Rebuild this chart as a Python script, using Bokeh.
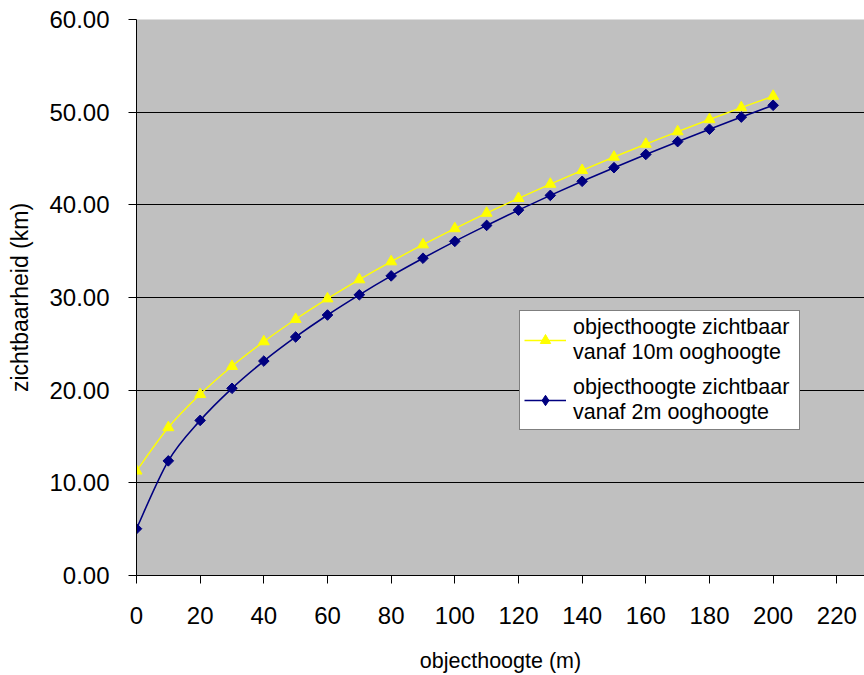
from bokeh.plotting import figure
from bokeh.models import (ColumnDataSource, Range1d, FixedTicker, NumeralTickFormatter,
                          Legend, LegendItem)
from bokeh.embed import file_html
from bokeh.resources import INLINE

# ---- data ----
objecthoogte = [0, 10, 20, 30, 40, 50, 60, 70, 80, 90, 100,
                110, 120, 130, 140, 150, 160, 170, 180, 190, 200]
zicht_10m = [11.29, 15.97, 19.55, 22.58, 25.24, 27.65, 29.87, 31.93, 33.87, 35.70, 37.44,
             39.11, 40.70, 42.24, 43.72, 45.16, 46.55, 47.90, 49.21, 50.49, 51.73]
zicht_2m = [5.05, 12.37, 16.74, 20.20, 23.14, 25.74, 28.11, 30.29, 32.33, 34.24, 36.06,
            37.78, 39.43, 41.02, 42.54, 44.01, 45.44, 46.82, 48.16, 49.47, 50.74]
x_ticks = [0, 20, 40, 60, 80, 100, 120, 140, 160, 180, 200, 220]
y_ticks = [0, 10, 20, 30, 40, 50, 60]
label_10m = "objecthoogte zichtbaar\nvanaf 10m ooghoogte"
label_2m = "objecthoogte zichtbaar\nvanaf 2m ooghoogte"

YELLOW = "#FFFF00"
NAVY = "#000080"
FONT = "Liberation Sans"


def smooth_segments(xs, ys):
    """Bezier control points (Excel-like smoothed line) derived from the data points."""
    n = len(xs)
    d = dict(x0=[], y0=[], x1=[], y1=[], cx0=[], cy0=[], cx1=[], cy1=[])
    for i in range(n - 1):
        ip = max(i - 1, 0)
        i2 = min(i + 2, n - 1)
        d["x0"].append(xs[i]); d["y0"].append(ys[i])
        d["x1"].append(xs[i + 1]); d["y1"].append(ys[i + 1])
        d["cx0"].append(xs[i] + (xs[i + 1] - xs[ip]) / 6.0)
        d["cy0"].append(ys[i] + (ys[i + 1] - ys[ip]) / 6.0)
        d["cx1"].append(xs[i + 1] - (xs[i2] - xs[i]) / 6.0)
        d["cy1"].append(ys[i + 1] - (ys[i2] - ys[i]) / 6.0)
    return ColumnDataSource(d)


p = figure(width=864, height=675, output_backend="svg", toolbar_location=None,
           x_range=Range1d(0, 228.7), y_range=Range1d(0, 60),
           min_border_left=136, min_border_right=0, min_border_top=19, min_border_bottom=98)

p.background_fill_color = "#C0C0C0"
p.border_fill_color = "white"
p.outline_line_color = None

p.xgrid.grid_line_color = None
p.ygrid.grid_line_color = "black"
p.ygrid.grid_line_width = 1

# axes
p.xaxis.ticker = FixedTicker(ticks=x_ticks)
p.yaxis.ticker = FixedTicker(ticks=y_ticks)
p.yaxis.formatter = NumeralTickFormatter(format="0.00")
for ax in (p.xaxis[0], p.yaxis[0]):
    ax.axis_line_color = "black"
    ax.axis_line_width = 1
    ax.major_tick_line_color = "black"
    ax.major_tick_in = 0
    ax.major_tick_out = 8
    ax.minor_tick_line_color = None
    ax.major_label_text_font = FONT
    ax.major_label_text_font_size = "24px"
    ax.major_label_text_color = "black"
    ax.axis_label_text_font = FONT
    ax.axis_label_text_font_style = "normal"
    ax.axis_label_text_color = "black"

p.xaxis.axis_label = "objecthoogte (m)"
p.xaxis.axis_label_text_font_size = "21.5px"
p.xaxis.major_label_standoff = 23
p.xaxis.axis_label_standoff = 22

p.yaxis.axis_label = "zichtbaarheid (km)"
p.yaxis.axis_label_text_font_size = "23px"
p.yaxis.major_label_standoff = 19
p.yaxis.axis_label_standoff = 13

# series
src10 = ColumnDataSource(dict(x=objecthoogte, y=zicht_10m))
src2 = ColumnDataSource(dict(x=objecthoogte, y=zicht_2m))

b10 = p.bezier(x0="x0", y0="y0", x1="x1", y1="y1", cx0="cx0", cy0="cy0", cx1="cx1", cy1="cy1",
               source=smooth_segments(objecthoogte, zicht_10m), line_color=YELLOW, line_width=1.4)
m10 = p.scatter("x", "y", source=src10, marker="triangle", size=11,
                fill_color=YELLOW, line_color=YELLOW)

b2 = p.bezier(x0="x0", y0="y0", x1="x1", y1="y1", cx0="cx0", cy0="cy0", cx1="cx1", cy1="cy1",
              source=smooth_segments(objecthoogte, zicht_2m), line_color=NAVY, line_width=1.6)
m2 = p.scatter("x", "y", source=src2, marker="square", angle=0.785398, size=7.5,
               fill_color=NAVY, line_color=NAVY)
# diamond-shaped legend symbol (legend markers are drawn unrotated)
m2_key = p.scatter("x", "y", source=src2, marker="diamond", size=12,
                   fill_color=NAVY, line_color=NAVY, visible=False)

legend = Legend(items=[LegendItem(label=label_10m, renderers=[b10, m10]),
                       LegendItem(label=label_2m, renderers=[b2, m2_key])],
                location=(383, 145))
legend.background_fill_color = "white"
legend.background_fill_alpha = 1
legend.border_line_color = "black"
legend.border_line_width = 1
legend.label_text_font = FONT
legend.label_text_font_size = "21.5px"
legend.label_text_color = "black"
legend.glyph_width = 42
legend.glyph_height = 26
legend.label_standoff = 7
legend.label_width = 222
legend.padding = 4
legend.margin = 0
legend.spacing = 10
p.add_layout(legend, "center")

open("out.html", "w").write(file_html(p, INLINE))
